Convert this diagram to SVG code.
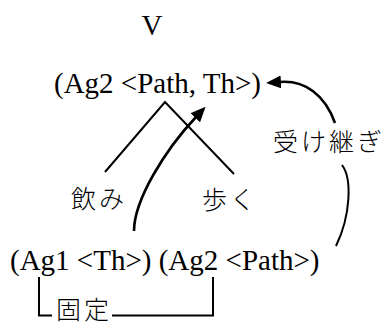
<svg xmlns="http://www.w3.org/2000/svg" width="389" height="326" viewBox="0 0 389 326">
<style>
.lat{font-family:"Liberation Serif","Times New Roman",serif;font-size:29px;fill:#000}
.jp{font-family:"Noto Sans CJK JP","Noto Sans",sans-serif;font-size:25px;font-weight:300;letter-spacing:3px;fill:#000}
.ln{fill:none;stroke:#000;stroke-width:2}
.arr{fill:none;stroke:#000;stroke-width:2.6;marker-end:url(#ah)}
</style>
<defs>
<marker id="ah" markerUnits="userSpaceOnUse" markerWidth="18" markerHeight="14" refX="1" refY="6.5" orient="auto" viewBox="0 0 18 14">
<path d="M0,0 L15,6.5 L0,13 z" fill="#000"/>
</marker>
</defs>
<rect width="389" height="326" fill="#fff"/>
<g id="v"><text class="lat" x="152" y="35" text-anchor="middle">V</text></g>
<g id="top"><text class="lat" x="54" y="93">(Ag2 &lt;Path, Th&gt;)</text></g>
<g id="nomi"><text class="jp" x="71" y="208">飲み</text></g>
<g id="aruku"><text class="jp" x="202" y="209">歩く</text></g>
<g id="uketsugi"><text class="jp" x="273" y="151">受け継ぎ</text></g>
<g id="bottom"><text class="lat" x="10" y="270">(Ag1 &lt;Th&gt;) (Ag2 &lt;Path&gt;)</text></g>
<g id="kotei"><text class="jp" x="56" y="319">固定</text></g>
<g id="connectors">
<path class="ln" d="M105,172 L165,102 L234,174"/>
<path class="arr" d="M134,231 C134,200 165,150 196,117"/>
<path class="arr" d="M335,123 C325,95 305,80 280,82"/>
<path class="ln" d="M342,165 C352,178 351,215 336,246"/>
<path class="ln" d="M39,277 V315.5 H52"/>
<path class="ln" d="M112,315.5 H213 V277"/>
</g>
</svg>
